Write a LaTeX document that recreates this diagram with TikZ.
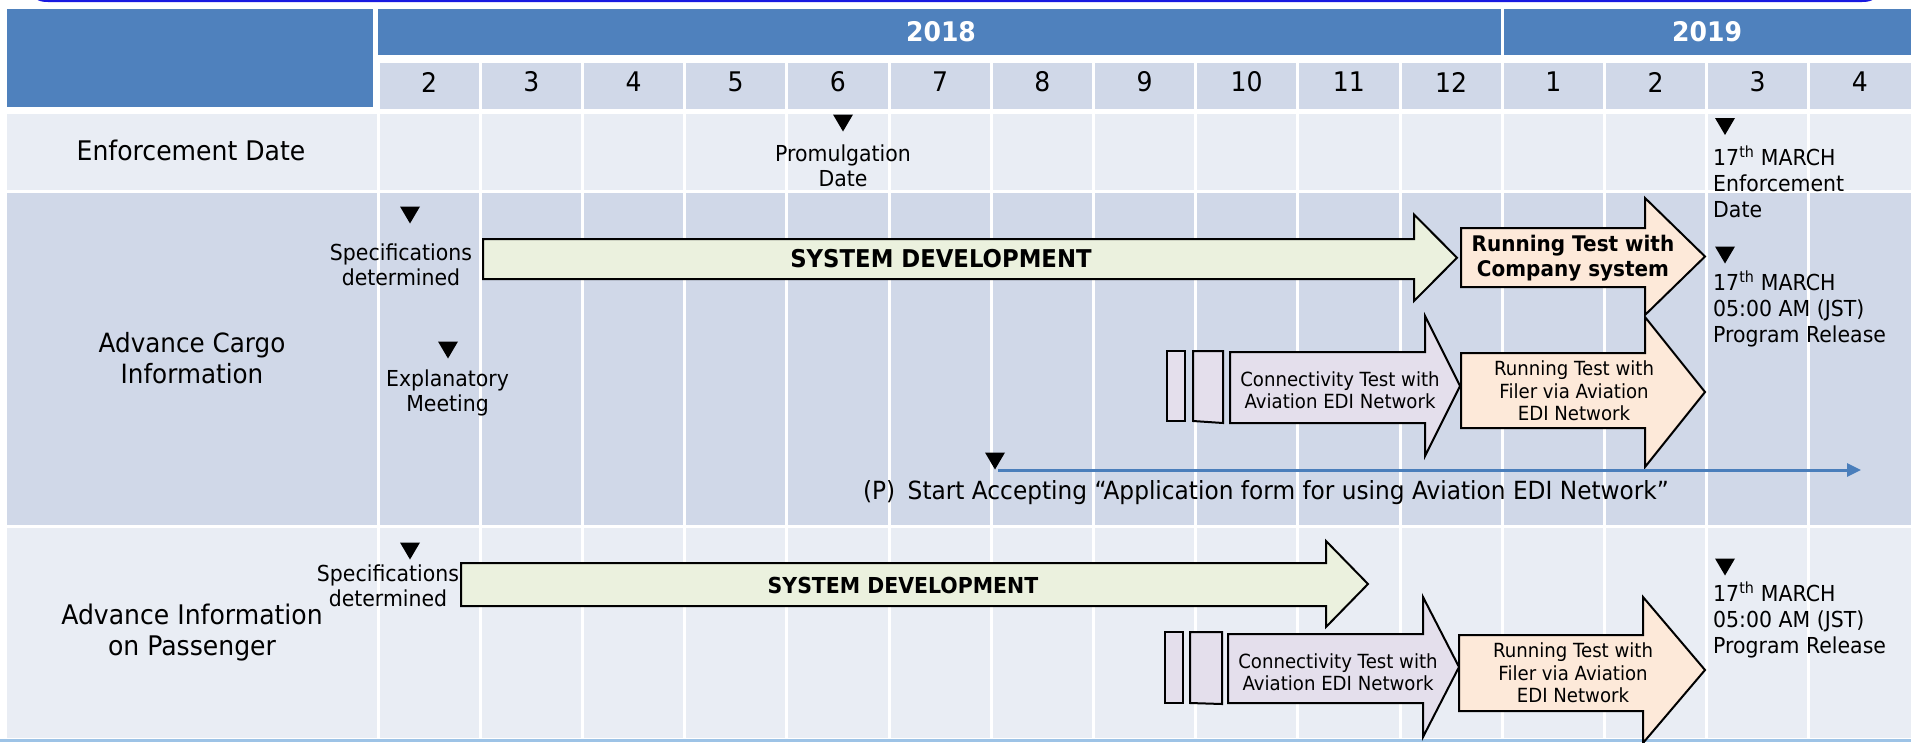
\documentclass[tikz,border=0pt]{standalone}
\usepackage{fontspec}
\setmainfont{DejaVu Sans}[FakeStretch=0.93]
\usetikzlibrary{arrows.meta}
\definecolor{hdr}{HTML}{4F81BD}
\definecolor{rowA}{HTML}{D0D8E8}
\definecolor{rowB}{HTML}{E9EDF4}
\definecolor{grn}{HTML}{EBF1DE}
\definecolor{pch}{HTML}{FDE9D9}
\definecolor{lav}{HTML}{E4DFEC}
\definecolor{bline}{HTML}{4A7EBB}
\definecolor{lblue}{HTML}{9DC3E6}
\definecolor{topblue}{RGB}{25,25,225}
\newcommand\myarrow[8]{%
  \filldraw[fill=#1, draw=black, line width=2pt, line join=miter]
    (#2,#3) -- (#5,#3) -- (#5,#6) -- (#8,{(#6+#7)/2}) -- (#5,#7) -- (#5,#4) -- (#2,#4) -- cycle;}
\tikzset{
  rowlbl/.style={font=\fontsize{27}{31}\selectfont, align=center, inner sep=0},
  mon/.style={font=\fontsize{27}{31}\selectfont, inner sep=0},
  yr/.style={font=\bfseries\fontsize{27}{31}\selectfont, text=white, inner sep=0},
  ann/.style={font=\fontsize{22}{25.5}\selectfont, align=center, inner sep=0},
  annl/.style={font=\fontsize{22}{26}\selectfont, align=left, anchor=west, inner sep=0},
  boxt/.style={font=\fontsize{19.5}{22.5}\selectfont, align=center, inner sep=0},
  boldt/.style={font=\bfseries\fontsize{21.5}{25}\selectfont, align=center, inner sep=0},
  sysd/.style={font=\bfseries\fontsize{22}{26}\selectfont, inner sep=0},
  tri/.pic={\fill[black] (-10,-8.5) -- (10,-8.5) -- (0,8.5) -- cycle;},
  smallrect/.style={fill=lav, draw=black, line width=2pt},
}
\begin{document}
\begin{tikzpicture}[x=1pt,y=-1pt]
\useasboundingbox (0,0) rectangle (1911,742);
\fill[white] (0,0) rectangle (1911,742);
% top frame line
\draw[topblue, line width=2pt] (33,-12) .. controls (33,-2) and (38,1) .. (48,1) -- (1862,1) .. controls (1872,1) and (1877,-2) .. (1877,-12);
% header
\fill[hdr] (7,9) rectangle (373,106.5);
\fill[hdr] (378,9) rectangle (1501,55);
\fill[hdr] (1504,9) rectangle (1911,55);
\fill[rowA] (379.5,63) rectangle (1911,108.5);
\foreach \i in {1,...,14} \draw[white, line width=3pt] ({378+102.2*\i},60) -- ({378+102.2*\i},110);
% rows
\fill[rowB] (7,114) rectangle (1911,190);
\fill[rowA] (7,193) rectangle (1911,525);
\fill[rowB] (7,528) rectangle (1911,738);
\foreach \i in {0,...,14} \draw[white, line width=3pt] ({378+102.2*\i},111) -- ({378+102.2*\i},739);
\draw[lblue, line width=3pt] (0,740.5) -- (1911,740.5);
% years and months
\node[yr] (y2018) at (941,32) {2018};
\node[yr] (y2019) at (1707,32) {2019};
\foreach \m [count=\i from 0] in {2,3,4,5,6,7,8,9,10,11,12,1,2,3,4}
  \node[mon] (m\i) at ({378+102.2*\i+51.1},82) {\m};
% row labels
\node[rowlbl] (rEnf) at (191,150) {Enforcement Date};
\node[rowlbl, font=\fontsize{26.5}{30.5}\selectfont] (rCargo) at (192,358) {Advance Cargo\\Information};
\node[rowlbl] (rPass) at (192,633) {Advance Information\\on Passenger};
% enforcement row
\pic at (843,123) {tri};
\node[ann] (prom) at (843,166) {Promulgation\\Date};
\pic at (1725,126.5) {tri};
\node[annl] (enfd) at (1713,182) {17\textsuperscript{th} MARCH\\Enforcement\\Date};
% cargo row
\pic at (410,215) {tri};
\node[ann] (spec1) at (401,265) {Specifications\\determined};
\pic at (448,350) {tri};
\node[ann] (expl) at (447.5,393) {Explanatory\\Meeting};
\myarrow{grn}{483}{239}{279}{1414}{214.5}{301}{1457}
\node[sysd, font=\bfseries\fontsize{24.5}{28}\selectfont] (sd1) at (941,259) {SYSTEM DEVELOPMENT};
\myarrow{pch}{1461}{228}{287}{1645}{198}{315}{1705}
\node[boldt] (comp) at (1573,258) {Running Test with\\Company system};
\pic at (1725,255) {tri};
\node[annl] (rel1) at (1713,309) {17\textsuperscript{th} MARCH\\05:00 AM (JST)\\Program Release};
\draw[smallrect] (1167,351) rectangle (1185,421);
\draw[smallrect] (1193,351) -- (1223,351) -- (1223,423) -- (1193,421) -- cycle;
\myarrow{lav}{1230}{352}{423}{1425}{316}{456}{1460}
\node[boxt] (con1) at (1340,390) {Connectivity Test with\\Aviation EDI Network};
\myarrow{pch}{1461}{353}{428}{1645}{317}{467}{1705}
\node[boxt] (fil1) at (1574,391) {Running Test with\\Filer via Aviation\\EDI Network};
\pic at (995,461) {tri};
\coordinate (pstart) at (998,470);
\coordinate (pend) at (1861,470);
\draw[bline, line width=3pt, -{Triangle[length=14pt,width=13pt]}] (pstart) -- (pend);
\node[font=\fontsize{25}{29}\selectfont, inner sep=0] (appl) at (1266,493) {(P)\hspace{0.5em}Start Accepting “Application form for using Aviation EDI Network”};
% passenger row
\pic at (410,551) {tri};
\node[ann] (spec2) at (388,586) {Specifications\\determined};
\myarrow{grn}{461}{563}{606}{1326}{541}{627}{1368}
\node[sysd] (sd2) at (903,585) {SYSTEM DEVELOPMENT};
\draw[smallrect] (1165,632) rectangle (1183,703);
\draw[smallrect] (1190,632) -- (1222,632) -- (1222,704) -- (1190,703) -- cycle;
\myarrow{lav}{1228}{634}{703}{1423}{597}{737}{1459}
\node[boxt] (con2) at (1338,672) {Connectivity Test with\\Aviation EDI Network};
\myarrow{pch}{1459}{635}{711}{1643}{597}{743}{1705}
\node[boxt] (fil2) at (1573,673) {Running Test with\\Filer via Aviation\\EDI Network};
\pic at (1725,567) {tri};
\node[annl] (rel2) at (1713,620) {17\textsuperscript{th} MARCH\\05:00 AM (JST)\\Program Release};
\end{tikzpicture}
\end{document}
